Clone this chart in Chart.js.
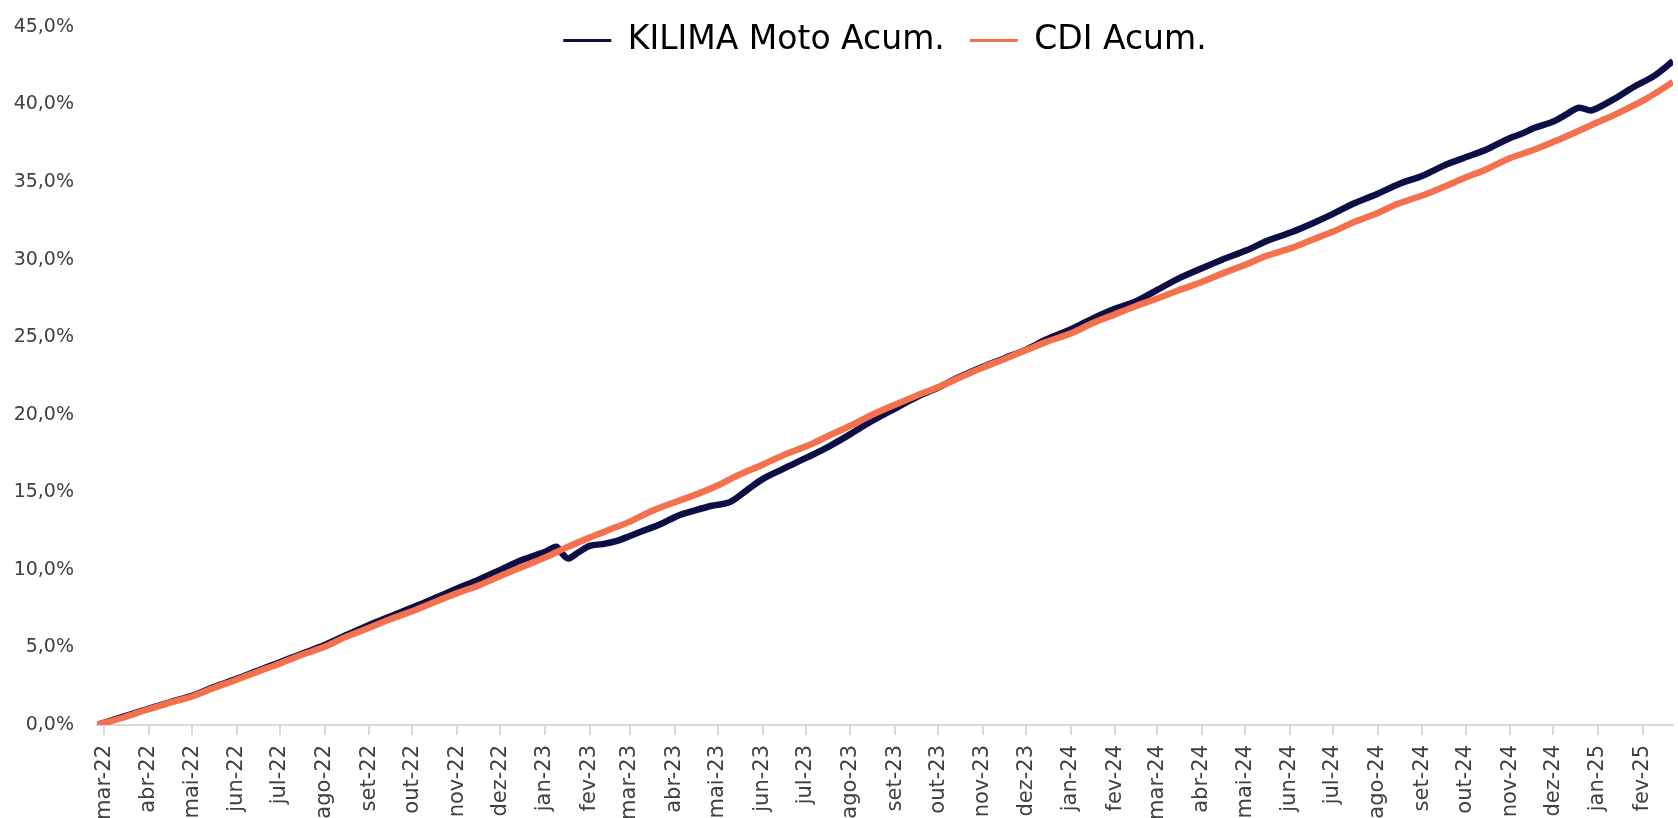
<!DOCTYPE html>
<html lang="pt-BR">
<head>
<meta charset="utf-8">
<title>KILIMA Moto x CDI</title>
<script src="https://cdn.jsdelivr.net/npm/chart.js@4.4.1/dist/chart.umd.min.js"></script>
<style>
  html, body { margin: 0; padding: 0; background: #fff; overflow: hidden; }
  #wrap { position: relative; width: 1678px; height: 818px; }
</style>
</head>
<body>
<div id="wrap"><canvas id="acumChart"></canvas></div>
<script>
// Rentabilidade acumulada (%)
const kilimaDatas = [
  '2022-02-24', '2022-03-15', '2022-04-01', '2022-04-15', '2022-05-02', '2022-05-16',
  '2022-06-01', '2022-06-15', '2022-07-01', '2022-07-15', '2022-08-01', '2022-08-15',
  '2022-09-01', '2022-09-15', '2022-10-03', '2022-10-17', '2022-11-01', '2022-11-16',
  '2022-12-01', '2022-12-15', '2023-01-02', '2023-01-09', '2023-01-12', '2023-01-17',
  '2023-01-24', '2023-02-01', '2023-02-10', '2023-02-20', '2023-03-01', '2023-03-13',
  '2023-03-22', '2023-04-03', '2023-04-14', '2023-04-26', '2023-05-10', '2023-05-22',
  '2023-06-01', '2023-06-15', '2023-07-03', '2023-07-17', '2023-08-01', '2023-08-15',
  '2023-09-01', '2023-09-15', '2023-10-02', '2023-10-16', '2023-11-01', '2023-11-16',
  '2023-12-01', '2023-12-15', '2024-01-02', '2024-01-16', '2024-02-01', '2024-02-15',
  '2024-03-01', '2024-03-15', '2024-04-01', '2024-04-15', '2024-05-02', '2024-05-16',
  '2024-06-03', '2024-06-17', '2024-07-01', '2024-07-15', '2024-08-01', '2024-08-15',
  '2024-09-02', '2024-09-18', '2024-10-01', '2024-10-16', '2024-11-01', '2024-11-08',
  '2024-11-18', '2024-12-02', '2024-12-10', '2024-12-19', '2024-12-27', '2024-12-31',
  '2025-01-12', '2025-01-26', '2025-02-09', '2025-02-22'
];
const kilimaValores = [
  0.00, 0.55, 1.05, 1.45, 1.92, 2.45,
  2.98, 3.48, 4.05, 4.55, 5.15, 5.75,
  6.45, 6.98, 7.65, 8.20, 8.80, 9.37,
  10.00, 10.60, 11.20, 11.49, 11.15, 10.74,
  11.12, 11.55, 11.66, 11.87, 12.19, 12.62,
  12.94, 13.48, 13.80, 14.12, 14.40, 15.20,
  15.85, 16.50, 17.30, 17.95, 18.75, 19.55,
  20.40, 21.10, 21.80, 22.45, 23.10, 23.65,
  24.20, 24.85, 25.55, 26.20, 26.85, 27.30,
  28.05, 28.75, 29.45, 30.00, 30.60, 31.20,
  31.80, 32.35, 32.95, 33.60, 34.25, 34.85,
  35.45, 36.15, 36.60, 37.12, 37.85, 38.08,
  38.50, 38.95, 39.36, 39.80, 39.62, 39.75,
  40.35, 41.15, 41.85, 42.80
];

const cdiDatas = [
  '2022-02-24', '2022-03-15', '2022-04-01', '2022-04-15', '2022-05-02', '2022-05-16',
  '2022-06-01', '2022-06-15', '2022-07-01', '2022-07-15', '2022-08-01', '2022-08-15',
  '2022-09-01', '2022-09-15', '2022-10-03', '2022-10-17', '2022-11-01', '2022-11-16',
  '2022-12-01', '2022-12-15', '2023-01-02', '2023-01-16', '2023-02-01', '2023-02-15',
  '2023-03-01', '2023-03-15', '2023-04-03', '2023-04-17', '2023-05-02', '2023-05-15',
  '2023-06-01', '2023-06-15', '2023-07-03', '2023-07-17', '2023-08-01', '2023-08-15',
  '2023-09-01', '2023-09-15', '2023-10-02', '2023-10-16', '2023-11-01', '2023-11-16',
  '2023-12-01', '2023-12-15', '2024-01-02', '2024-01-16', '2024-02-01', '2024-02-15',
  '2024-03-01', '2024-03-15', '2024-04-01', '2024-04-15', '2024-05-02', '2024-05-16',
  '2024-06-03', '2024-06-17', '2024-07-01', '2024-07-15', '2024-08-01', '2024-08-15',
  '2024-09-02', '2024-09-16', '2024-10-01', '2024-10-16', '2024-11-01', '2024-11-18',
  '2024-12-02', '2024-12-16', '2025-01-02', '2025-01-16', '2025-02-03', '2025-02-22'
];
const cdiValores = [
  0.00, 0.50, 1.03, 1.42, 1.87, 2.38,
  2.92, 3.42, 3.97, 4.48, 5.04, 5.65,
  6.27, 6.80, 7.41, 7.95, 8.50, 9.00,
  9.61, 10.15, 10.84, 11.45, 12.08, 12.60,
  13.11, 13.75, 14.43, 14.90, 15.49, 16.10,
  16.78, 17.38, 18.03, 18.65, 19.29, 19.95,
  20.65, 21.20, 21.82, 22.40, 23.04, 23.60,
  24.17, 24.70, 25.28, 25.90, 26.49, 27.00,
  27.50, 28.00, 28.56, 29.10, 29.71, 30.25,
  30.78, 31.30, 31.81, 32.40, 33.01, 33.60,
  34.17, 34.70, 35.29, 35.85, 36.55, 37.10,
  37.63, 38.20, 38.91, 39.50, 40.35, 41.45
];

// Marcas do eixo X (início de cada mês)
const mesesTicks = [
  '2022-03-01', '2022-04-01', '2022-05-01', '2022-06-01', '2022-07-01', '2022-08-01',
  '2022-09-01', '2022-10-01', '2022-11-01', '2022-12-01', '2023-01-01', '2023-02-01',
  '2023-03-01', '2023-04-01', '2023-05-01', '2023-06-01', '2023-07-01', '2023-08-01',
  '2023-09-01', '2023-10-01', '2023-11-01', '2023-12-01', '2024-01-01', '2024-02-01',
  '2024-03-01', '2024-04-01', '2024-05-01', '2024-06-01', '2024-07-01', '2024-08-01',
  '2024-09-01', '2024-10-01', '2024-11-01', '2024-12-01', '2025-01-01', '2025-02-01'
];
const mesesLabels = [
  'mar-22', 'abr-22', 'mai-22', 'jun-22', 'jul-22', 'ago-22',
  'set-22', 'out-22', 'nov-22', 'dez-22', 'jan-23', 'fev-23',
  'mar-23', 'abr-23', 'mai-23', 'jun-23', 'jul-23', 'ago-23',
  'set-23', 'out-23', 'nov-23', 'dez-23', 'jan-24', 'fev-24',
  'mar-24', 'abr-24', 'mai-24', 'jun-24', 'jul-24', 'ago-24',
  'set-24', 'out-24', 'nov-24', 'dez-24', 'jan-25', 'fev-25'
];
const yTicks = [0, 5, 10, 15, 20, 25, 30, 35, 40, 45];

const corKilima = '#0e0e46';
const corCdi = '#f4714e';

// dias desde 1970 (eixo linear)
function dia(s) {
  return Date.UTC(+s.slice(0, 4), +s.slice(5, 7) - 1, +s.slice(8, 10)) / 86400000;
}

function pontos(datas, valores) {
  return datas.map((d, i) => ({ x: dia(d), y: valores[i] }));
}

function formatPct(v) {
  return v.toFixed(1).replace('.', ',') + '%';
}

// legenda no topo, mas sem ocupar espaço: fica por cima da área do gráfico
const legendSobreposta = {
  id: 'legendSobreposta',
  beforeLayout(chart) {
    const lg = chart.legend;
    if (lg && !lg._sobreposta) {
      const fitOriginal = lg.fit;
      lg.fit = function () {
        fitOriginal.call(this);
        this._alturaReal = this.height;
        this.height = 0;
      };
      lg._sobreposta = true;
    }
  },
  afterLayout(chart) {
    const lg = chart.legend;
    if (lg) {
      lg.top = -1;
      lg.height = lg._alturaReal;
      lg.bottom = lg.top + lg.height;
    }
  }
};

Chart.defaults.font.family = "'DejaVu Sans', sans-serif";
Chart.defaults.color = '#404040';

const ctx = document.getElementById('acumChart').getContext('2d');
const acumChart = new Chart(ctx, {
  type: 'line',
  data: {
    datasets: [{
      label: 'KILIMA Moto Acum.',
      data: pontos(kilimaDatas, kilimaValores),
      borderColor: corKilima,
      backgroundColor: corKilima,
      borderWidth: 6.5,
      pointRadius: 0,
      cubicInterpolationMode: 'monotone',
      order: 1
    }, {
      label: 'CDI Acum.',
      data: pontos(cdiDatas, cdiValores),
      borderColor: corCdi,
      backgroundColor: corCdi,
      borderWidth: 6.5,
      pointRadius: 0,
      cubicInterpolationMode: 'monotone',
      order: 0
    }]
  },
  options: {
    responsive: true,
    maintainAspectRatio: false,
    animation: false,
    layout: { padding: { top: 27, left: 0, right: 0, bottom: 0 } },
    plugins: {
      tooltip: { enabled: false },
      legend: {
        position: 'top',
        align: 'center',
        fullSize: false,
        labels: {
          boxWidth: 48,
          boxHeight: 3,
          padding: 25,
          color: '#404040',
          font: { size: 33 },
          generateLabels: (chart) => {
            const ds = chart.data.datasets;
            return [0, 1].map((i) => ({
              text: ds[i].label,
              fillStyle: ds[i].borderColor,
              strokeStyle: ds[i].borderColor,
              lineWidth: 0,
              hidden: false,
              datasetIndex: i
            }));
          }
        }
      }
    },
    scales: {
      x: {
        type: 'linear',
        min: dia(kilimaDatas[0]),
        max: dia(kilimaDatas[kilimaDatas.length - 1]),
        afterBuildTicks: (scale) => {
          scale.ticks = mesesTicks.map((d) => ({ value: dia(d) }));
        },
        afterFit: (scale) => {
          scale.height = 93;
        },
        grid: {
          display: true,
          drawOnChartArea: false,
          drawTicks: true,
          tickLength: 10,
          color: '#d9d9d9',
          lineWidth: 2
        },
        border: { display: true, color: '#d9d9d9', width: 2 },
        ticks: {
          autoSkip: false,
          minRotation: 90,
          maxRotation: 90,
          padding: 10,
          color: '#404040',
          font: { size: 21 },
          callback: (value, index) => mesesLabels[index]
        }
      },
      y: {
        min: 0,
        max: 45,
        afterBuildTicks: (scale) => {
          scale.ticks = yTicks.map((v) => ({ value: v }));
        },
        afterFit: (scale) => {
          scale.width = 97;
        },
        // sem marcas visíveis; tickLength só afasta os rótulos
        grid: { display: false, drawTicks: true, tickLength: 20 },
        border: { display: false },
        ticks: {
          padding: 3,
          color: '#404040',
          font: { size: 19 },
          callback: (value) => formatPct(value)
        }
      }
    }
  },
  plugins: [legendSobreposta]
});
</script>
</body>
</html>
